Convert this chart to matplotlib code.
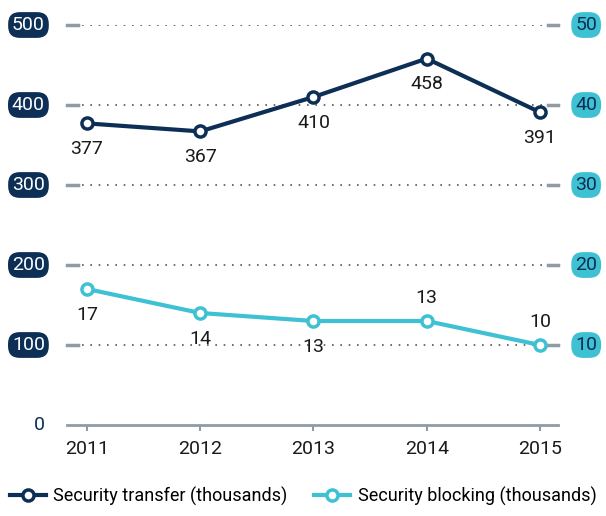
import matplotlib
matplotlib.use("Agg")
import matplotlib.pyplot as plt

plt.rcParams['font.family'] = ['Roboto', 'DejaVu Sans']

years = [2011, 2012, 2013, 2014, 2015]
transfer = [377, 367, 410, 458, 391]
blocking = [17, 14, 13, 13, 10]
left_ticks = [0, 100, 200, 300, 400, 500]
right_ticks = [10, 20, 30, 40, 50]
transfer_pos = ['below', 'below', 'below', 'below', 'below']
blocking_pos = ['below', 'below', 'below', 'above', 'above']

navy = '#0d2f55'
cyan = '#3ec1d3'
grey = '#8f9ca6'

fig = plt.figure(figsize=(6.06, 5.16), dpi=100)
ax = fig.add_axes([67/606, 91/516, 491/606, 400/516])
ax2 = ax.twinx()
ax.set_xlim(2010.823, 2015.16)
ax.set_ylim(0, 500)
ax2.set_ylim(0, 50)

for a in (ax, ax2):
    for s in a.spines.values():
        s.set_visible(False)
    a.set_yticks([])
ax.spines['bottom'].set_visible(True)
ax.spines['bottom'].set_color(grey)
ax.spines['bottom'].set_linewidth(2)
ax.set_xticks(years)
ax.set_xticklabels([str(y) for y in years], fontsize=14, color='#1a1a1a')
ax.tick_params(axis='x', length=4, width=1.5, color=grey, pad=7)

# gridlines: grey dash at both ends, dotted between
yt = ax.get_yaxis_transform()
for v in left_ticks[1:]:
    ax.plot([0.0, 0.022], [v, v], transform=yt, color=grey, lw=2.5, clip_on=False, zorder=1)
    ax.plot([0.98, 1.0], [v, v], transform=yt, color=grey, lw=2.5, clip_on=False, zorder=1)
    ax.plot([0.03, 0.97], [v, v], transform=yt, color='#555555', lw=1.2,
            linestyle=(0, (1, 4)), zorder=1)

# tick labels in boxes
for v in left_ticks:
    if v == 0:
        ax.text(-0.045, v, '0', transform=yt, ha='right', va='center', fontsize=14, color=navy)
    else:
        ax.text(-0.045, v, str(v), transform=yt, ha='right', va='center', fontsize=14, color='white',
                bbox=dict(boxstyle='round,pad=0.2,rounding_size=0.6', fc=navy, ec='none'))
yt2 = ax2.get_yaxis_transform()
for v in right_ticks:
    ax2.text(1.035, v, str(v), transform=yt2, ha='left', va='center', fontsize=14, color=navy,
             bbox=dict(boxstyle='round,pad=0.2,rounding_size=0.6', fc=cyan, ec='none'))

l1, = ax.plot(years, transfer, color=navy, lw=3, marker='o', markersize=8,
              markerfacecolor='white', markeredgecolor=navy, markeredgewidth=2.5,
              clip_on=False, zorder=3, label='Security transfer (thousands)')
l2, = ax2.plot(years, blocking, color=cyan, lw=3, marker='o', markersize=8,
               markerfacecolor='white', markeredgecolor=cyan, markeredgewidth=2.5,
               clip_on=False, zorder=3, label='Security blocking (thousands)')

for x, v, p in zip(years, transfer, transfer_pos):
    off = -12 if p == 'below' else 10
    ax.annotate(str(v), (x, v), xytext=(0, off), textcoords='offset points',
                ha='center', va='top' if p == 'below' else 'bottom', fontsize=14, color='#1a1a1a')
for x, v, p in zip(years, blocking, blocking_pos):
    off = -12 if p == 'below' else 10
    ax2.annotate(str(v), (x, v), xytext=(0, off), textcoords='offset points',
                 ha='center', va='top' if p == 'below' else 'bottom', fontsize=14, color='#1a1a1a')

fig.legend(handles=[l1, l2], loc='lower center', bbox_to_anchor=(0.5, -0.005), ncol=2,
           frameon=False, fontsize=13, handlelength=2.0, columnspacing=1.5, handletextpad=0.4,
           borderaxespad=0.3)

fig.savefig('out.png', dpi=100)
